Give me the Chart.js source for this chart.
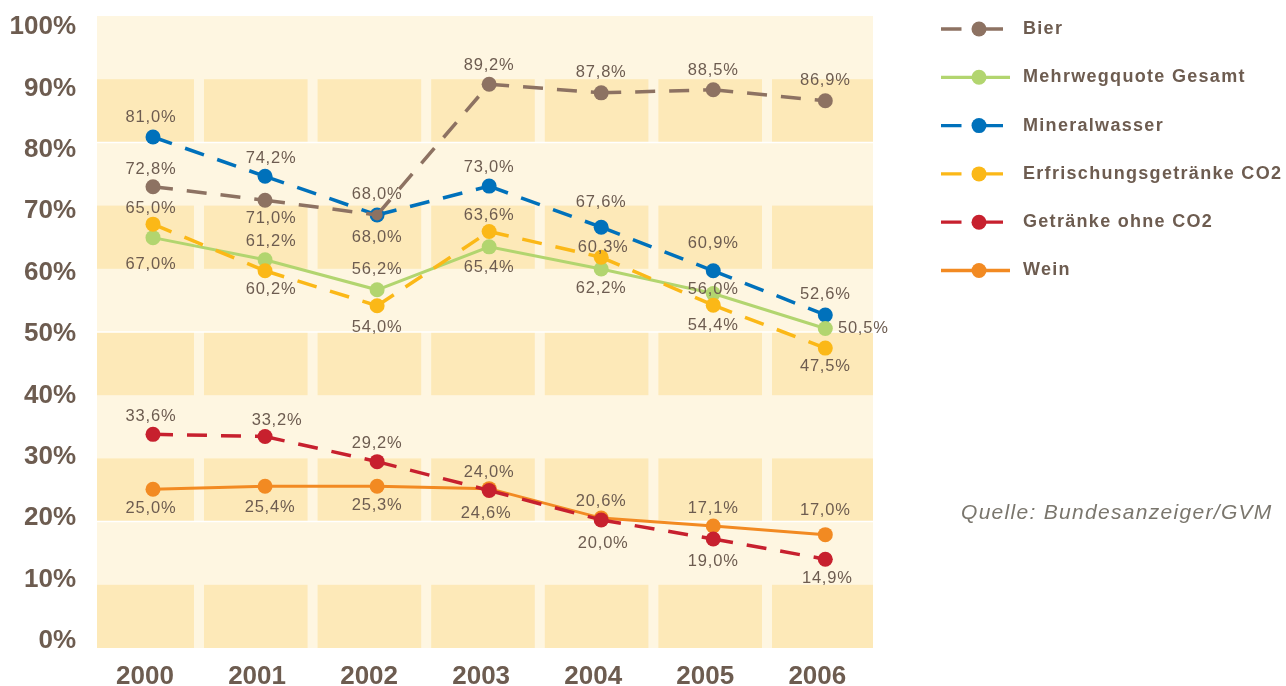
<!DOCTYPE html>
<html><head><meta charset="utf-8">
<script src="https://cdn.jsdelivr.net/npm/chart.js@4.4.1/dist/chart.umd.min.js"></script>
<style>html,body{margin:0;padding:0;background:#fff;}canvas{display:block;}</style>
</head><body>
<canvas id="c" width="1286" height="686"></canvas>
<script>
// ---- data ----
const years = ['2000','2001','2002','2003','2004','2005','2006'];
const yTicks = [0,10,20,30,40,50,60,70,80,90,100];
const seriesNames = ['Bier','Mehrwegquote Gesamt','Mineralwasser','Erfrischungsgetränke CO2','Getränke ohne CO2','Wein'];

const bier     = [74.0, 71.8, 69.4, 90.7, 89.3, 89.8, 88.0];
const mehrweg  = [65.7, 62.1, 57.2, 64.2, 60.6, 56.6, 50.9];
const mineral  = [82.1, 75.7, 69.4, 74.1, 67.4, 60.3, 53.1];
const erfr     = [67.9, 60.3, 54.6, 66.7, 62.5, 54.7, 47.7];
const ohneCO2  = [33.65, 33.3, 29.2, 24.5, 19.7, 16.6, 13.3];
const wein     = [24.7, 25.2, 25.2, 24.8, 20.0, 18.7, 17.3];

const bierLabels    = ['72,8%','71,0%','68,0%','89,2%','87,8%','88,5%','86,9%'];
const mehrwegLabels = ['67,0%','61,2%','56,2%','65,4%','62,2%','56,0%','50,5%'];
const mineralLabels = ['81,0%','74,2%','68,0%','73,0%','67,6%','60,9%','52,6%'];
const erfrLabels    = ['65,0%','60,2%','54,0%','63,6%','60,3%','54,4%','47,5%'];
const ohneLabels    = ['33,6%','33,2%','29,2%','24,0%','20,0%','19,0%','14,9%'];
const weinLabels    = ['25,0%','25,4%','25,3%','24,6%','20,6%','17,1%','17,0%'];

const sourceText = 'Quelle: Bundesanzeiger/GVM';

// ---- styling / layout ----
const TXT = '#6d5c50';
const LIGHT = '#fef6e1', DARK = '#fde9b8';
const colors = ['#8d7262','#b2d56f','#0071bb','#fbb817','#c7202e','#f28a22'];
const dashed = [true,false,true,true,true,false];
const drawOrder = [0,2,3,1,4,5];
const labelOffsets = [
  [[-2,-17],[6,18],[0,-20],[0,-19],[0,-20],[0,-19],[0,-20]],
  [[-2,27],[6,-18],[0,-20],[0,21],[0,20],[0,-4],[38,0]],
  [[-2,-20],[6,-18],[0,23],[0,-19],[0,-25],[0,-27],[0,-21]],
  [[-2,-16],[6,19],[0,22],[0,-16],[2,-10],[0,20],[0,18]],
  [[-2,-18],[12,-16],[0,-18],[0,-18],[2,24],[0,22],[2,19]],
  [[-2,19],[5,21],[0,19],[-3,25],[0,-17],[0,-18],[0,-24]]
];
const allValues = [bier, mehrweg, mineral, erfr, ohneCO2, wein];
const allLabels = [bierLabels, mehrwegLabels, mineralLabels, erfrLabels, ohneLabels, weinLabels];

const datasets = allValues.map((vals, s) => ({
  label: seriesNames[s],
  data: vals.map((v, i) => ({x: i, y: v})),
  borderColor: colors[s],
  backgroundColor: colors[s],
  pointBackgroundColor: colors[s],
  pointBorderWidth: 0,
  pointRadius: (c) => (s === 0 && c.dataIndex === 2) ? 5.5 : 7.5,
  pointHoverRadius: 7.5,
  borderWidth: dashed[s] ? 3.5 : 3,
  borderDash: dashed[s] ? [20, 14] : [],
  borderCapStyle: 'butt',
  segment: dashed[s] ? { borderDashOffset: (c) => c.p0DataIndex * 0.001 } : {},
  tension: 0,
  order: drawOrder[s],
  clip: false
}));

const plotBg = {
  id: 'plotBg',
  beforeDatasetsDraw(chart) {
    const {ctx, chartArea: a} = chart;
    const W = a.right - a.left, H = a.bottom - a.top, bh = H / 10;
    ctx.save();
    ctx.fillStyle = LIGHT;
    ctx.fillRect(a.left, a.top, W, H);
    const gaps = [0,1,2,3,4,5].map(j => a.left + W * (0.1314 + 0.1464 * j));
    const edges = [a.left];
    gaps.forEach(g => { edges.push(g - 5); edges.push(g + 5); });
    edges.push(a.right);
    ctx.fillStyle = DARK;
    for (let k = 1; k < 10; k += 2) {
      const y0 = a.top + k * bh;
      for (let c = 0; c < edges.length; c += 2) ctx.fillRect(edges[c], y0, edges[c+1] - edges[c], bh);
    }
    ctx.strokeStyle = '#ffffff'; ctx.lineWidth = 1.5;
    [2,5,8].forEach(k => { const y = a.top + k * bh; ctx.beginPath(); ctx.moveTo(a.left, y); ctx.lineTo(a.right, y); ctx.stroke(); });
    ctx.restore();
  }
};

const dataLabels = {
  id: 'dataLabels',
  afterDatasetsDraw(chart) {
    const ctx = chart.ctx;
    ctx.save();
    ctx.font = '16.5px "Liberation Sans", Arial, sans-serif';
    try { ctx.letterSpacing = '0.8px'; } catch(e) {}
    ctx.fillStyle = TXT;
    ctx.textAlign = 'center';
    ctx.textBaseline = 'middle';
    allLabels.forEach((labs, s) => {
      const meta = chart.getDatasetMeta(s);
      meta.data.forEach((el, i) => {
        const [dx, dy] = labelOffsets[s][i];
        ctx.fillText(labs[i], el.x + dx, el.y + dy);
      });
    });
    ctx.restore();
  }
};

const legendAndSource = {
  id: 'legendAndSource',
  afterDraw(chart) {
    const ctx = chart.ctx;
    ctx.save();
    seriesNames.forEach((name, s) => {
      const y = 29 + 48.3 * s;
      ctx.strokeStyle = colors[s];
      ctx.lineWidth = 3.3;
      ctx.lineCap = 'butt';
      ctx.beginPath();
      if (dashed[s]) {
        ctx.moveTo(941, y); ctx.lineTo(961.5, y);
        ctx.moveTo(979, y); ctx.lineTo(1003, y);
      } else {
        ctx.moveTo(941, y); ctx.lineTo(1010, y);
      }
      ctx.stroke();
      ctx.fillStyle = colors[s];
      ctx.beginPath(); ctx.arc(979, y, 7.5, 0, Math.PI * 2); ctx.fill();
      ctx.fillStyle = TXT;
      ctx.font = 'bold 18px "Liberation Sans", Arial, sans-serif';
      try { ctx.letterSpacing = '1.3px'; } catch(e) {}
      ctx.textAlign = 'left'; ctx.textBaseline = 'middle';
      ctx.fillText(name, 1023, y);
      try { ctx.letterSpacing = '0px'; } catch(e) {}
    });
    ctx.fillStyle = '#7a766d';
    ctx.font = 'italic 21px "Liberation Sans", Arial, sans-serif';
    try { ctx.letterSpacing = '1.3px'; } catch(e) {}
    ctx.textAlign = 'left'; ctx.textBaseline = 'middle';
    ctx.fillText(sourceText, 961, 513);
    ctx.restore();
  }
};

new Chart(document.getElementById('c'), {
  type: 'line',
  data: { datasets },
  plugins: [plotBg, dataLabels, legendAndSource],
  options: {
    responsive: false,
    animation: false,
    devicePixelRatio: 1,
    layout: { padding: { left: 0, right: 413, top: 16, bottom: 0 } },
    plugins: { legend: { display: false }, tooltip: { enabled: false } },
    scales: {
      x: {
        type: 'linear',
        min: -0.4998, max: 6.4257,
        grid: { display: false, drawTicks: false },
        border: { display: false },
        afterBuildTicks: (sc) => { sc.ticks = years.map((_, i) => ({ value: i })); },
        afterFit: (sc) => { sc.height = 38; sc.paddingLeft = 0; sc.paddingRight = 0; },
        ticks: {
          autoSkip: false, maxRotation: 0, padding: 13, labelOffset: -8,
          color: TXT,
          font: { family: '"Liberation Sans", Arial, sans-serif', size: 26, weight: 'bold' },
          callback: (v) => years[v]
        }
      },
      y: {
        min: -1.17, max: 101.82,
        grid: { display: false, drawTicks: false },
        border: { display: false },
        afterBuildTicks: (sc) => { sc.ticks = yTicks.map(v => ({ value: v })); },
        afterFit: (sc) => { sc.width = 97; sc.paddingTop = 0; sc.paddingBottom = 0; },
        ticks: {
          autoSkip: false, padding: 21,
          color: TXT,
          font: { family: '"Liberation Sans", Arial, sans-serif', size: 26, weight: 'bold' },
          callback: (v) => v + '%'
        }
      }
    }
  }
});
</script>
</body></html>
